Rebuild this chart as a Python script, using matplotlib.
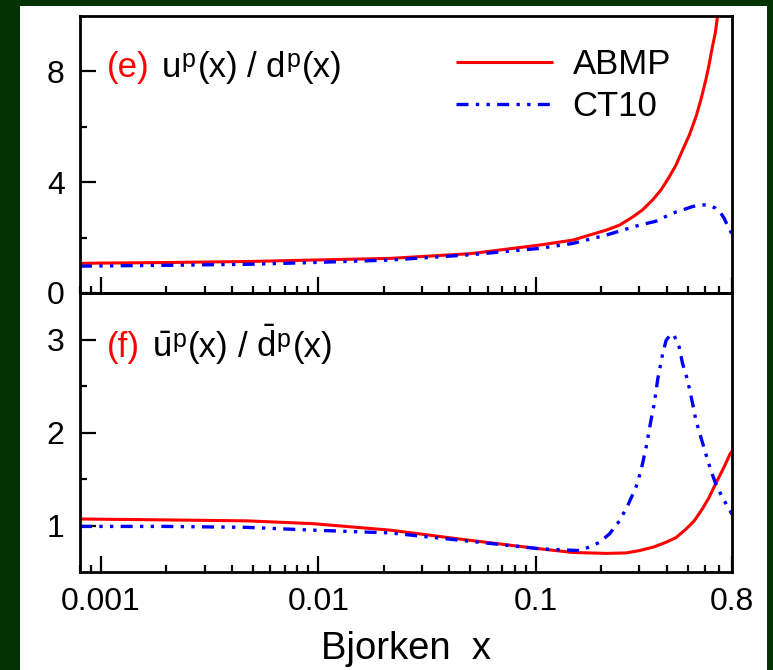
import numpy as np
import matplotlib
matplotlib.use('Agg')
import matplotlib.pyplot as plt
from matplotlib.patches import Rectangle
from matplotlib.ticker import FixedLocator, FixedFormatter, LogLocator, NullFormatter

plt.rcParams['font.family'] = ['Liberation Sans', 'DejaVu Sans']
plt.rcParams['mathtext.fontset'] = 'custom'
plt.rcParams['mathtext.rm'] = 'Liberation Sans'
plt.rcParams['mathtext.it'] = 'Liberation Sans:italic'
plt.rcParams['mathtext.bf'] = 'Liberation Sans:bold'

# ---- data ----
ud_abmp_x = [0.0008, 0.001, 0.002, 0.005, 0.0094, 0.0214, 0.05, 0.104, 0.148, 0.211,
             0.243, 0.28, 0.31, 0.345, 0.377, 0.412, 0.442, 0.474, 0.509, 0.546,
             0.575, 0.606, 0.627, 0.65, 0.67, 0.686, 0.70]
ud_abmp_y = [1.07, 1.08, 1.10, 1.14, 1.19, 1.25, 1.42, 1.73, 1.91, 2.27,
             2.45, 2.75, 3.00, 3.36, 3.72, 4.20, 4.62, 5.16, 5.70, 6.36,
             6.97, 7.69, 8.23, 8.89, 9.38, 9.98, 10.5]

ud_ct10_x = [0.0008, 0.002, 0.005, 0.0094, 0.0214, 0.05, 0.104, 0.148, 0.211, 0.251,
             0.30, 0.357, 0.426, 0.474, 0.526, 0.566, 0.606, 0.64, 0.673, 0.711,
             0.736, 0.761, 0.79, 0.80]
ud_ct10_y = [0.97, 1.00, 1.04, 1.10, 1.19, 1.38, 1.61, 1.79, 2.09, 2.27,
             2.45, 2.59, 2.88, 3.00, 3.12, 3.18, 3.18, 3.14, 3.06, 2.88,
             2.70, 2.45, 2.21, 2.10]

ubdb_abmp_x = [0.0008, 0.002, 0.0047, 0.0094, 0.0214, 0.05, 0.104, 0.148, 0.211, 0.26,
               0.30, 0.35, 0.398, 0.442, 0.491, 0.536, 0.585, 0.627, 0.673, 0.711,
               0.736, 0.784, 0.80]
ubdb_abmp_y = [1.07, 1.06, 1.05, 1.02, 0.95, 0.84, 0.75, 0.71, 0.70, 0.705,
               0.73, 0.77, 0.82, 0.87, 0.96, 1.05, 1.18, 1.30, 1.45, 1.56,
               1.63, 1.77, 1.80]

ubdb_ct10_x = [0.0008, 0.002, 0.0047, 0.0094, 0.0214, 0.05, 0.104, 0.159, 0.177, 0.197,
               0.2185, 0.243, 0.265, 0.289, 0.305, 0.322, 0.339, 0.351, 0.364, 0.384,
               0.398, 0.419, 0.434, 0.457, 0.474, 0.50, 0.527, 0.546, 0.575, 0.606,
               0.64, 0.673, 0.723, 0.784, 0.80]
ubdb_ct10_y = [0.99, 0.99, 0.98, 0.95, 0.92, 0.83, 0.75, 0.73, 0.77, 0.82,
               0.91, 1.05, 1.215, 1.41, 1.59, 1.84, 2.13, 2.31, 2.57, 2.85,
               2.99, 3.06, 3.04, 2.92, 2.74, 2.56, 2.31, 2.13, 1.95, 1.77,
               1.59, 1.45, 1.30, 1.16, 1.12]

series_labels = ['ABMP', 'CT10']
x_tick_vals = [0.001, 0.01, 0.1, 0.8]
x_tick_labels = ['0.001', '0.01', '0.1', '0.8']
top_yticks = [0, 4, 8]
top_yminor = [2, 6]
bot_yticks = [1, 2, 3]
bot_yminor = [1.5, 2.5]

# panel label pieces: (text, colour, is superscript, gap before in px)
label_e = [('(e)', '#ff0000', False, 0), ('u', 'k', False, 12), ('p', 'k', True, 1),
           ('(x)', 'k', False, 2), ('/', 'k', False, 9), ('d', 'k', False, 9),
           ('p', 'k', True, 1), ('(x)', 'k', False, 2)]
label_f = [('(f)', '#ff0000', False, 0), (r'$\bar{\mathrm{u}}$', 'k', False, 12),
           ('p', 'k', True, 1), ('(x)', 'k', False, 2), ('/', 'k', False, 9),
           (r'$\bar{\mathrm{d}}$', 'k', False, 9), ('p', 'k', True, 1),
           ('(x)', 'k', False, 2)]

# ---- figure ----
W, H = 773, 670
fig = plt.figure(figsize=(W / 100, H / 100), dpi=100, facecolor='#033303')
fig.patches.append(Rectangle((20 / W, 0), 747 / W, 664 / H, transform=fig.transFigure,
                             facecolor='white', edgecolor='none', zorder=-10))

ax1 = fig.add_axes([80 / W, 1 - 293 / H, 652 / W, 277 / H], zorder=2)
ax2 = fig.add_axes([80 / W, 1 - 572 / H, 652 / W, 279 / H], sharex=ax1, zorder=1)

red_kw = dict(color='#ff0000', lw=2.2, solid_capstyle='butt', solid_joinstyle='round')
blue_kw = dict(color='#0000ff', lw=2.4, linestyle=(0, (3.6, 2.2, 1, 2.2, 1, 2.2)),
               dash_capstyle='butt', dash_joinstyle='round')

ax1.plot(ud_abmp_x, ud_abmp_y, label=series_labels[0], **red_kw)
ax1.plot(ud_ct10_x, ud_ct10_y, label=series_labels[1], **blue_kw)
ax2.plot(ubdb_abmp_x, ubdb_abmp_y, **red_kw)
ax2.plot(ubdb_ct10_x, ubdb_ct10_y, **blue_kw)

ax1.set_xscale('log')
ax1.set_xlim(0.0008, 0.8)
ax1.set_ylim(0, 10)
ax2.set_ylim(0.5, 3.5)

ax2.xaxis.set_major_locator(FixedLocator(x_tick_vals))
ax2.xaxis.set_major_formatter(FixedFormatter(x_tick_labels))
ax2.xaxis.set_minor_locator(LogLocator(base=10, subs=np.arange(2, 10), numticks=30))
ax2.xaxis.set_minor_formatter(NullFormatter())

ax1.yaxis.set_major_locator(FixedLocator(top_yticks))
ax1.yaxis.set_minor_locator(FixedLocator(top_yminor))
ax2.yaxis.set_major_locator(FixedLocator(bot_yticks))
ax2.yaxis.set_minor_locator(FixedLocator(bot_yminor))

for ax in (ax1, ax2):
    ax.patch.set_alpha(0)
    for s in ax.spines.values():
        s.set_linewidth(2.0)
    ax.tick_params(which='major', direction='in', length=11.5, width=1.6,
                   labelsize=23, pad=11, top=False, right=False)
    ax.tick_params(which='minor', direction='in', length=5, width=1.6,
                   top=False, right=False)
ax1.tick_params(labelbottom=False)

ax2.set_xlabel('Bjorken  x', fontsize=27.5, labelpad=10)

renderer = fig.canvas.get_renderer()


def panel_label(ax, pieces, x0, ybase):
    X, Y = ax.transAxes.transform((x0, ybase))
    for txt, col, sup, gap in pieces:
        X += gap
        size = 18 if sup else 25
        dy = 10 if sup else 0
        t = fig.text(X / W, (Y + dy) / H, txt, fontsize=size, color=col,
                     va='baseline', ha='left', zorder=5)
        X = t.get_window_extent(renderer).x1


panel_label(ax1, label_e, 0.0414, 0.78)
panel_label(ax2, label_f, 0.0414, 0.771)

ax1.legend(loc='upper left', bbox_to_anchor=(0.577, 0.884), frameon=False, fontsize=25,
           handlelength=2.8, handletextpad=0.55, labelspacing=0.25, borderpad=0,
           borderaxespad=0)

fig.savefig('out.png', dpi=100, facecolor=fig.get_facecolor())
